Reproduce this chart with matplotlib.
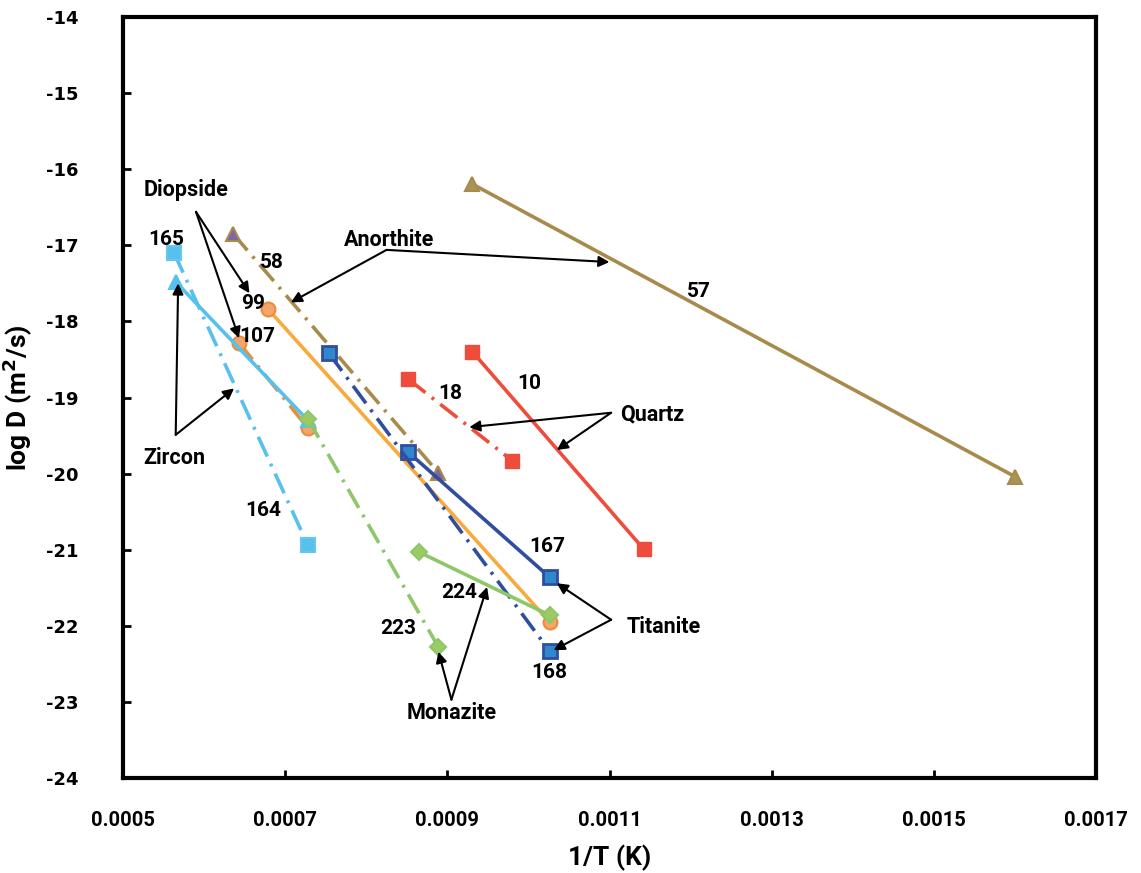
import matplotlib
matplotlib.use("Agg")
import matplotlib.pyplot as plt

plt.rcParams["axes.unicode_minus"] = False

# ---- data (1/T, log D) ----
anor57_x = [0.00093, 0.00160]
anor57_y = [-16.19, -20.04]
anor58_x = [0.000636, 0.000889]
anor58_y = [-16.85, -19.99]
diop99_x = [0.000679, 0.001026]
diop99_y = [-17.84, -21.95]
diop107_x = [0.000643, 0.000728]
diop107_y = [-18.28, -19.40]
zirc_sq_x = [0.000563, 0.000728]
zirc_sq_y = [-17.10, -20.94]
zirc_tri_x = [0.000565, 0.000728]
zirc_tri_y = [-17.48, -19.30]
mon223_x = [0.000728, 0.000889]
mon223_y = [-19.28, -22.28]
mon224_x = [0.000865, 0.001026]
mon224_y = [-21.03, -21.86]
tit167_x = [0.000852, 0.001026]
tit167_y = [-19.72, -21.36]
tit168_x = [0.000754, 0.001026]
tit168_y = [-18.42, -22.33]
qtz10_x = [0.000931, 0.001142]
qtz10_y = [-18.40, -20.99]
qtz18_x = [0.000852, 0.00098]
qtz18_y = [-18.76, -19.83]

x_ticks = [0.0005, 0.0007, 0.0009, 0.0011, 0.0013, 0.0015, 0.0017]
x_tick_labels = ["0.0005", "0.0007", "0.0009", "0.0011", "0.0013", "0.0015", "0.0017"]
y_ticks = [-24, -23, -22, -21, -20, -19, -18, -17, -16, -15, -14]

fig = plt.figure(figsize=(11.41, 8.73), dpi=100)
ax = fig.add_axes([0.1078, 0.1088, 0.8528, 0.8717])

DD = (0, (6, 2.2, 0.8, 2.2))
BROWN = "#A88B4C"
LBLUE = "#55C1EC"
DBLUE = "#2F4EA0"
ORANGE = "#F9AA3C"
OEDGE = "#EE8A3C"
GREEN = "#8DC76A"
RED = "#EE4D3C"

lw = 2.6
# Anorthite
ax.plot(anor57_x, anor57_y, color=BROWN, lw=lw, marker="^", ms=10,
        mfc="#A89458", mec=BROWN, mew=1.5, zorder=3)
ax.plot(anor58_x, anor58_y, color=BROWN, lw=lw, ls=DD, marker="^", ms=10,
        mfc="#7E68A8", mec=BROWN, mew=1.5, zorder=3)
# Diopside
ax.plot(diop99_x, diop99_y, color=ORANGE, lw=lw, marker="o", ms=10,
        mfc="#F4A56A", mec=OEDGE, mew=1.5, zorder=3)
ax.plot(diop107_x, diop107_y, color=OEDGE, lw=lw, ls=DD, marker="o", ms=10,
        mfc="#F4A56A", mec=OEDGE, mew=1.5, zorder=3)
# Zircon
ax.plot(zirc_sq_x, zirc_sq_y, color=LBLUE, lw=lw, ls=DD, marker="s", ms=10,
        mfc=LBLUE, mec="#66C6EE", mew=1.5, zorder=3)
ax.plot(zirc_tri_x, zirc_tri_y, color=LBLUE, lw=lw, marker="^", ms=10,
        mfc=LBLUE, mec=LBLUE, mew=1.5, zorder=3)
# Monazite
ax.plot(mon223_x, mon223_y, color=GREEN, lw=lw, ls=DD, marker="D", ms=8,
        mfc="#9CCB64", mec=GREEN, mew=1.5, zorder=4)
ax.plot(mon224_x, mon224_y, color=GREEN, lw=lw, marker="D", ms=8,
        mfc="#9CCB64", mec=GREEN, mew=1.5, zorder=4)
# Titanite
ax.plot(tit167_x, tit167_y, color=DBLUE, lw=lw, marker="s", ms=10,
        mfc="#2F88CC", mec=DBLUE, mew=2, zorder=3)
ax.plot(tit168_x, tit168_y, color=DBLUE, lw=lw, ls=DD, marker="s", ms=10,
        mfc="#2F88CC", mec=DBLUE, mew=2, zorder=3)
# Quartz
ax.plot(qtz10_x, qtz10_y, color=RED, lw=lw, marker="s", ms=10,
        mfc=RED, mec=RED, zorder=3)
ax.plot(qtz18_x, qtz18_y, color=RED, lw=lw, ls=DD, marker="s", ms=10,
        mfc=RED, mec=RED, zorder=3)

ax.set_xlim(0.0005, 0.0017)
ax.set_ylim(-24, -14)
ax.set_xticks(x_ticks)
ax.set_xticklabels(x_tick_labels)
ax.set_yticks(y_ticks)
for s in ax.spines.values():
    s.set_linewidth(3)
ax.tick_params(axis="both", direction="in", length=6, width=2)
ax.tick_params(axis="y", pad=32, labelsize=13)
ax.tick_params(axis="x", pad=24)
for lab in ax.get_yticklabels():
    lab.set_family("DejaVu Sans")
    lab.set_fontweight("bold")
for lab in ax.get_xticklabels():
    lab.set_family("Roboto")
    lab.set_fontweight("bold")
    lab.set_fontsize(14.5)

ax.set_xlabel("1/T (K)", fontsize=19, fontweight="bold",
              family="Roboto", labelpad=10)
ax.set_ylabel("log D (m$^\\mathbf{2}$/s)", fontsize=19, fontweight="bold",
              family="Roboto")
ax.yaxis.set_label_coords(-0.09, 0.5)

tkw = dict(fontsize=15.5, fontweight="bold", family="Roboto", ha="center", va="center", zorder=6)
nkw = dict(fontsize=15, fontweight="bold", family="Roboto", ha="center", va="center", zorder=6)
akw = dict(arrowstyle="-|>", color="black", lw=1.5, mutation_scale=16, shrinkA=0, shrinkB=0)

def multi_arrow(text, txy, src, tips):
    ax.text(txy[0], txy[1], text, **tkw)
    for tip in tips:
        ax.annotate("", xy=tip, xytext=src, arrowprops=akw, zorder=6)

multi_arrow("Diopside", (0.000578, -16.27), (0.00059, -16.56),
            [(0.000656, -17.63), (0.000643, -18.22)])
multi_arrow("Anorthite", (0.000828, -16.93), (0.000825, -17.06),
            [(0.000707, -17.75), (0.0011, -17.22)])
multi_arrow("Zircon", (0.000563, -19.80), (0.000565, -19.49),
            [(0.000568, -17.50), (0.000637, -18.88)])
multi_arrow("Quartz", (0.001153, -19.22), (0.001102, -19.20),
            [(0.000927, -19.39), (0.001035, -19.69)])
multi_arrow("Titanite", (0.001167, -22.02), (0.001102, -21.92),
            [(0.001035, -21.44), (0.001031, -22.32)])
multi_arrow("Monazite", (0.000905, -23.15), (0.000905, -22.97),
            [(0.000889, -22.34), (0.000949, -21.49)])

num_labels = [("58", 0.000683, -17.23), ("57", 0.00121, -17.61), ("99", 0.00066, -17.76),
              ("107", 0.000665, -18.20), ("165", 0.000553, -16.93), ("164", 0.000673, -20.48),
              ("18", 0.000904, -18.95), ("10", 0.001001, -18.81), ("167", 0.001023, -20.96),
              ("168", 0.001026, -22.61), ("224", 0.000914, -21.56), ("223", 0.00084, -22.04)]
for t, x, y in num_labels:
    ax.text(x, y, t, **nkw)

fig.savefig("out.png", dpi=100)
